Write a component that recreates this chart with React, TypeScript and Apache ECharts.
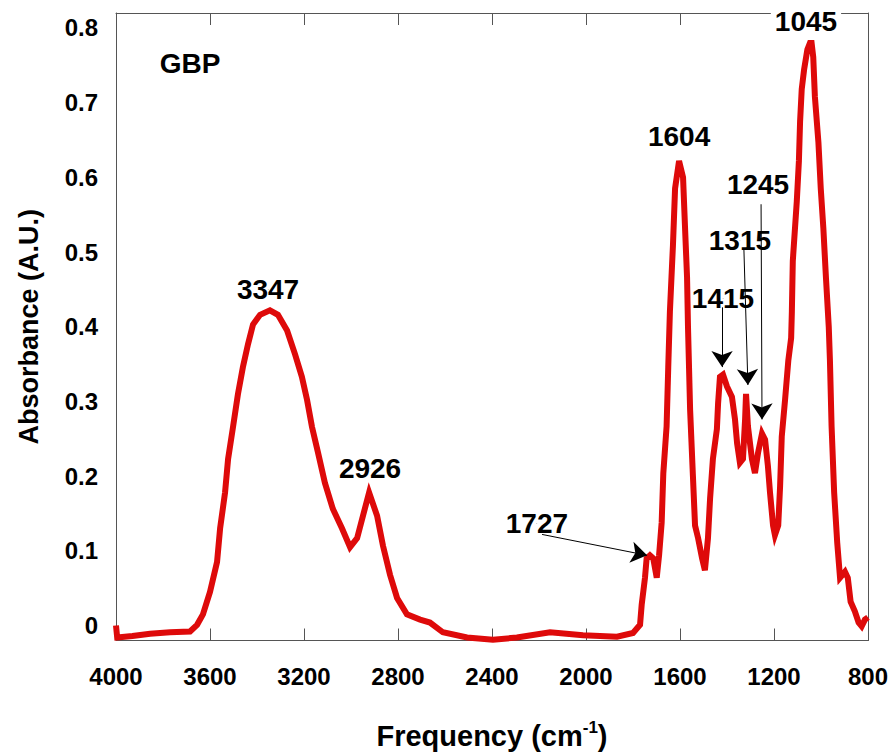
import React, { useEffect, useRef } from "react";
import * as echarts from "echarts";

const wavenumber = [
  4000, 3995, 3930, 3855, 3770, 3685, 3655, 3630, 3600, 3570, 3557, 3536, 3523, 3502, 3481, 3460,
  3438, 3417, 3387, 3345, 3311, 3272, 3238, 3209, 3187, 3166, 3140, 3111, 3077, 3038, 3004, 2974,
  2949, 2923, 2889, 2864, 2834, 2804, 2762, 2706, 2664, 2609, 2506, 2396, 2294, 2153, 2013, 1868,
  1800, 1770, 1763, 1749, 1742, 1728, 1714, 1699, 1689, 1678, 1671, 1657, 1650, 1643, 1630, 1621,
  1604, 1587, 1579, 1570, 1566, 1557, 1545, 1536, 1523, 1506, 1494, 1481, 1472, 1460, 1443, 1438,
  1430, 1417, 1400, 1379, 1366, 1357, 1345, 1332, 1323, 1319, 1311, 1294, 1281, 1268, 1251, 1238,
  1226, 1217, 1204, 1196, 1182, 1174, 1167, 1153, 1139, 1127, 1124, 1120, 1103, 1094, 1089, 1082,
  1072, 1058, 1047, 1040, 1033, 1026, 1011, 1001, 990, 979, 967, 962, 955, 944, 931, 919,
  898, 886, 874, 856, 840, 827, 813, 800,
];
const absorbance = [
  0.0, -0.016, -0.014, -0.011, -0.009, -0.008, 0.001, 0.015, 0.045, 0.085, 0.13, 0.178, 0.223, 0.266, 0.31, 0.346,
  0.377, 0.403, 0.416, 0.422, 0.416, 0.395, 0.363, 0.333, 0.302, 0.266, 0.231, 0.191, 0.156, 0.13, 0.105, 0.117,
  0.147, 0.178, 0.147, 0.107, 0.068, 0.037, 0.015, 0.008, 0.004, -0.009, -0.016, -0.019, -0.016, -0.009, -0.013, -0.015,
  -0.01, 0.001, 0.028, 0.064, 0.09, 0.094, 0.09, 0.064, 0.094, 0.138, 0.204, 0.267, 0.346, 0.42, 0.509, 0.585,
  0.622, 0.6, 0.536, 0.466, 0.4, 0.289, 0.2, 0.134, 0.117, 0.09, 0.074, 0.117, 0.17, 0.223, 0.263, 0.297,
  0.333, 0.336, 0.32, 0.306, 0.276, 0.244, 0.218, 0.223, 0.276, 0.31, 0.267, 0.223, 0.204, 0.231, 0.257, 0.249,
  0.214, 0.178, 0.134, 0.121, 0.134, 0.187, 0.253, 0.302, 0.355, 0.385, 0.42, 0.488, 0.568, 0.622, 0.675, 0.718,
  0.744, 0.771, 0.78, 0.78, 0.761, 0.708, 0.647, 0.585, 0.532, 0.466, 0.4, 0.355, 0.267, 0.178, 0.111, 0.064,
  0.072, 0.064, 0.032, 0.019, 0.004, -0.001, 0.008, 0.011,
];

const yTicks = [0, 0.1, 0.2, 0.3, 0.4, 0.5, 0.6, 0.7, 0.8];

const labelTexts = ["GBP", "3347", "2926", "1727", "1604", "1415", "1315", "1245", "1045"];
const labelX = [3685, 3353, 2919, 2209, 1604, 1417, 1345, 1268, 1064];
const labelY = [0.752, 0.45, 0.21, 0.137, 0.655, 0.438, 0.515, 0.59, 0.808];

const arrowFromX = [2187, 1421, 1328, 1255];
const arrowFromY = [0.122, 0.426, 0.503, 0.564];
const arrowToX = [1740, 1421, 1311, 1251];
const arrowToY = [0.094, 0.346, 0.322, 0.276];

const FONT = "'Liberation Sans', Arial, sans-serif";

export default function App() {
  const ref = useRef<HTMLDivElement>(null);
  useEffect(() => {
    if (!ref.current) return;
    const chart = echarts.init(ref.current, null, { renderer: "svg" });
    const lineData = wavenumber.map((w, i) => [w, absorbance[i]]);
    const labelData = labelTexts.map((t, i) => ({
      value: [labelX[i], labelY[i]],
      label: {
        formatter: t,
        color: "#000000",
        opacity: 1,
        backgroundColor: t === "1045" ? "#ffffff" : "transparent",
        padding: t === "1045" ? [0, 4, 0, 4] : 0,
      },
    }));
    const arrows = arrowFromX.map((x, i) => [
      { coord: [x, arrowFromY[i]] },
      { coord: [arrowToX[i], arrowToY[i]] },
    ]);
    const axisLineStyle = { color: "#555555", width: 1 };
    chart.setOption({
      animation: false,
      textStyle: { fontFamily: FONT },
      grid: { left: 116, right: 25, top: 13, bottom: 109, containLabel: false },
      xAxis: [
        {
          type: "value",
          position: "bottom",
          inverse: true,
          min: 800,
          max: 4000,
          interval: 400,
          axisLine: { show: true, onZero: false, lineStyle: axisLineStyle },
          axisTick: { show: true, inside: true, length: 12, lineStyle: axisLineStyle },
          axisLabel: {
            show: true,
            color: "#000",
            fontSize: 24,
            fontWeight: "bold",
            fontFamily: FONT,
            margin: 24,
            formatter: (v: number) => String(v),
          },
          splitLine: { show: false },
          name: "{a|Frequency (cm}{s|-1}{a|)}",
          nameLocation: "middle",
          nameGap: 78,
          nameTextStyle: {
            rich: {
              a: { fontSize: 29, fontWeight: "bold", color: "#000", fontFamily: FONT, lineHeight: 34 },
              s: { fontSize: 17, fontWeight: "bold", color: "#000", fontFamily: FONT, verticalAlign: "top", lineHeight: 18 },
            },
          },
        },
        {
          type: "value",
          position: "top",
          inverse: true,
          min: 800,
          max: 4000,
          interval: 400,
          axisLine: { show: true, onZero: false, lineStyle: axisLineStyle },
          axisTick: { show: true, inside: true, length: 12, lineStyle: axisLineStyle },
          axisLabel: { show: false },
          splitLine: { show: false },
        },
      ],
      yAxis: [
        {
          type: "value",
          position: "left",
          min: -0.02,
          max: 0.82,
          axisLine: { show: true, onZero: false, lineStyle: axisLineStyle },
          axisTick: { show: false },
          splitLine: { show: false },
          axisLabel: {
            show: true,
            customValues: yTicks,
            color: "#000",
            fontSize: 24,
            fontWeight: "bold",
            fontFamily: FONT,
            margin: 18,
            formatter: (v: number) => (Math.abs(v) < 1e-9 ? "0" : v.toFixed(1)),
          },
          name: "Absorbance (A.U.)",
          nameLocation: "middle",
          nameGap: 74,
          nameTextStyle: { fontSize: 27, fontWeight: "bold", color: "#000", fontFamily: FONT },
        },
        {
          type: "value",
          position: "right",
          min: -0.02,
          max: 0.82,
          axisLine: { show: true, onZero: false, lineStyle: axisLineStyle },
          axisTick: { show: false },
          axisLabel: { show: false },
          splitLine: { show: false },
        },
      ],
      series: [
        {
          type: "line",
          xAxisIndex: 0,
          yAxisIndex: 0,
          data: lineData,
          showSymbol: false,
          symbol: "none",
          clip: false,
          lineStyle: { color: "#de0a0a", width: 6, join: "miter" },
          z: 2,
        },
        {
          type: "scatter",
          xAxisIndex: 0,
          yAxisIndex: 0,
          data: labelData,
          symbol: "circle",
          symbolSize: 0.5,
          itemStyle: { color: "#000000", opacity: 1 },
          silent: true,
          z: 5,
          label: {
            show: true,
            position: "inside",
            color: "#000000",
            opacity: 1,
            fontSize: 28,
            fontWeight: "bold",
            fontFamily: FONT,
          },
          markLine: {
            silent: true,
            symbol: ["none", "arrow"],
            symbolSize: 16,
            label: { show: false },
            lineStyle: { color: "#000", width: 1, type: "solid", opacity: 1 },
            data: arrows,
          },
        },
      ],
    });
    return () => chart.dispose();
  }, []);
  return (
    <div
      ref={ref}
      style={{ position: "fixed", left: 0, top: 0, width: 893, height: 755, background: "#fff" }}
    />
  );
}
